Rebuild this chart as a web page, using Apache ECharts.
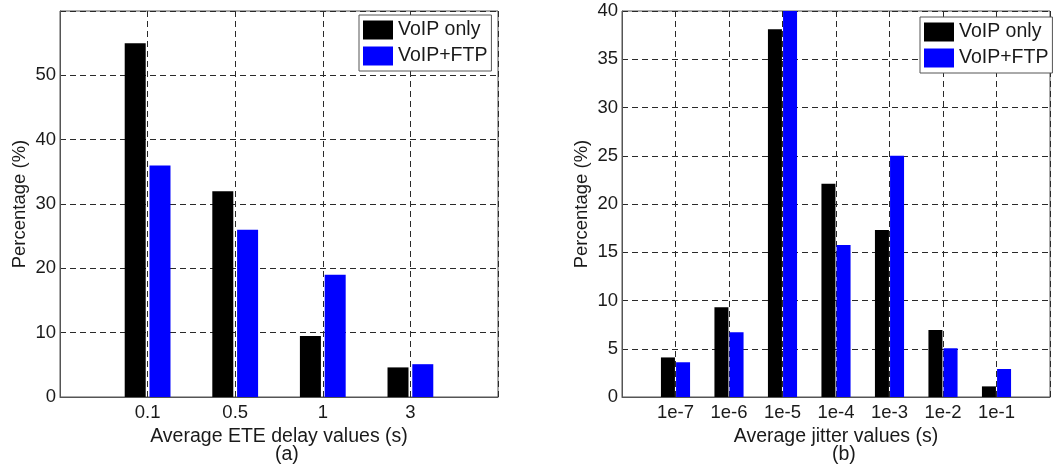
<!DOCTYPE html>
<html>
<head>
<meta charset="utf-8">
<script src="https://cdn.jsdelivr.net/npm/echarts@6/dist/echarts.min.js"></script>
<style>
  html, body { margin: 0; padding: 0; background: #fff; }
  #chart { width: 1053px; height: 469px; }
</style>
</head>
<body>
<div id="chart"></div>
<script>
// Panel (a): distribution of average end-to-end delay
const delayCategories = ['0.1', '0.5', '1', '3'];
const delayVoipOnly = [55, 32, 9.5, 4.6];
const delayVoipFtp = [36, 26, 19, 5.1];

// Panel (b): distribution of average jitter
const jitterCategories = ['1e-7', '1e-6', '1e-5', '1e-4', '1e-3', '1e-2', '1e-1'];
const jitterVoipOnly = [4.1, 9.3, 38.1, 22.1, 17.3, 6.95, 1.1];
const jitterVoipFtp = [3.6, 6.7, 40, 15.75, 25, 5.05, 2.9];

const seriesNames = ['VoIP only', 'VoIP+FTP'];
const seriesColors = ['#000000', '#0000ff'];

const FONT = 'Liberation Sans, Arial, Helvetica, sans-serif';
const TEXT = '#1a1a1a';
const BIG = 19.5;
const SMALL = 18.5;

// Categories sit at positions 1..n on a value axis running from 0 to n+1
function pairs(values) {
  return values.map((v, i) => [i + 1, v]);
}

function xAxisFor(gridIndex, categories, name) {
  return {
    type: 'value', gridIndex, min: 0, max: categories.length + 1, interval: 1,
    name, nameLocation: 'middle', nameGap: 20,
    nameTextStyle: { fontFamily: FONT, fontSize: BIG, color: TEXT },
    axisLine: { show: true, onZero: false, lineStyle: { color: '#555', width: 1 } },
    axisTick: { show: false },
    axisLabel: {
      fontFamily: FONT, fontSize: SMALL, color: TEXT, margin: 6,
      formatter: v => (v >= 1 && v <= categories.length) ? categories[v - 1] : ''
    },
    splitLine: { show: true, lineStyle: { color: '#2a2a2a', type: [6, 4], width: 1 } }
  };
}

function yAxisFor(gridIndex, max, interval, hideTop) {
  return {
    type: 'value', gridIndex, min: 0, max, interval,
    name: 'Percentage (%)', nameLocation: 'middle', nameGap: 31,
    nameTextStyle: { fontFamily: FONT, fontSize: SMALL, color: TEXT },
    axisLine: { show: true, lineStyle: { color: '#555', width: 1 } },
    axisTick: { show: false },
    axisLabel: {
      fontFamily: FONT, fontSize: SMALL, color: TEXT, margin: 4,
      formatter: v => (hideTop && v === max) ? '' : String(v)
    },
    splitLine: { show: true, lineStyle: { color: '#2a2a2a', type: [6, 4], width: 1 } }
  };
}

function barSeries(name, color, data, axisIndex, width, gap) {
  return {
    type: 'bar', name, data,
    xAxisIndex: axisIndex, yAxisIndex: axisIndex,
    barWidth: width, barGap: gap,
    itemStyle: { color },
    z: 1
  };
}

function legendAt(left, top) {
  return {
    data: seriesNames, orient: 'vertical', left, top,
    itemWidth: 30, itemHeight: 19, itemGap: 6,
    padding: [5, 4, 5, 4],
    borderColor: '#555', borderWidth: 1, backgroundColor: '#fff',
    icon: 'rect', selectedMode: false,
    textStyle: { fontFamily: FONT, fontSize: BIG, color: TEXT }
  };
}

const chart = echarts.init(document.getElementById('chart'), null, { renderer: 'canvas' });

chart.setOption({
  animation: false,
  backgroundColor: '#fff',
  color: seriesColors,
  grid: [
    { left: 60, top: 11, right: 555, bottom: 72, show: true, borderColor: '#555', borderWidth: 1, containLabel: false },
    { left: 622, top: 11, right: -7, bottom: 72, show: true, borderColor: '#555', borderWidth: 1, containLabel: false }
  ],
  legend: [legendAt(359, 15), legendAt(920, 17)],
  title: [
    { text: '(a)', left: 275, top: 445, textStyle: { fontFamily: FONT, fontSize: BIG, fontWeight: 'normal', color: TEXT }, padding: 0 },
    { text: '(b)', left: 832, top: 445, textStyle: { fontFamily: FONT, fontSize: BIG, fontWeight: 'normal', color: TEXT }, padding: 0 }
  ],
  xAxis: [
    xAxisFor(0, delayCategories, 'Average ETE delay values (s)'),
    xAxisFor(1, jitterCategories, 'Average jitter values (s)')
  ],
  yAxis: [
    yAxisFor(0, 60, 10, true),
    yAxisFor(1, 40, 5, false)
  ],
  series: [
    barSeries(seriesNames[0], seriesColors[0], pairs(delayVoipOnly), 0, 21, '18%'),
    barSeries(seriesNames[1], seriesColors[1], pairs(delayVoipFtp), 0, 21, '18%'),
    barSeries(seriesNames[0], seriesColors[0], pairs(jitterVoipOnly), 1, 14, '8%'),
    barSeries(seriesNames[1], seriesColors[1], pairs(jitterVoipFtp), 1, 14, '8%')
  ]
});
</script>
</body>
</html>
